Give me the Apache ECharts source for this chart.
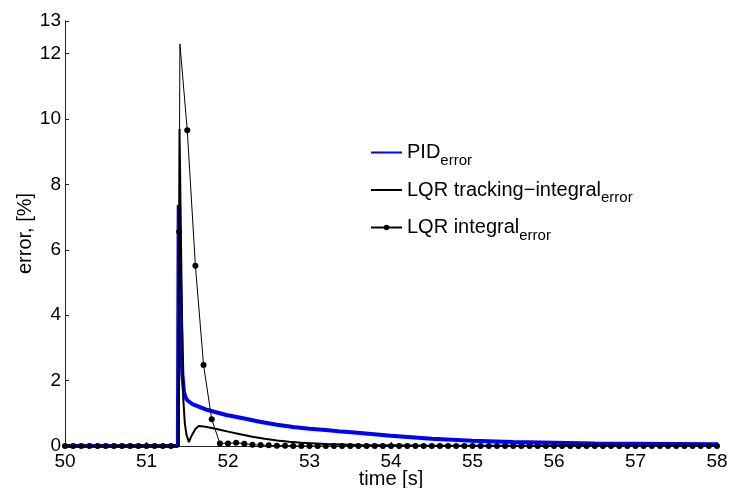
<!DOCTYPE html>
<html>
<head>
<meta charset="utf-8">
<title>error</title>
<script src="https://cdn.jsdelivr.net/npm/echarts@6/dist/echarts.min.js"></script>
<style>
  html, body { margin: 0; padding: 0; background: #fff; }
  #chart { width: 729px; height: 488px; }
</style>
</head>
<body>
<div id="chart"></div>
<script>
// PID error
const pidTime = [50, 51.385, 51.395, 51.42, 51.44, 51.46, 51.48, 51.5, 51.57, 51.75, 51.98, 52.2, 52.39, 52.6, 52.8, 53.0, 53.2, 53.4, 53.62, 54.0, 54.5, 55.0, 55.5, 56.0, 56.5, 57.0, 57.5, 58.0]
const pidValue = [0, 0, 7.37, 4.0, 2.2, 1.65, 1.48, 1.4, 1.27, 1.1, 0.95, 0.84, 0.74, 0.65, 0.58, 0.53, 0.49, 0.44, 0.4, 0.31, 0.22, 0.16, 0.12, 0.1, 0.08, 0.07, 0.06, 0.05]

// LQR tracking-integral error
const trackTime = [50, 51.395, 51.405, 51.43, 51.45, 51.47, 51.49, 51.52, 51.55, 51.6, 51.64, 51.7, 51.8, 51.9, 52.0, 52.15, 52.3, 52.45, 52.6, 52.75, 52.9, 53.2, 53.6, 54.0, 54.5, 55.0, 56.0, 58.0]
const trackValue = [0, 0, 9.7, 5.0, 1.5, 0.7, 0.35, 0.12, 0.3, 0.52, 0.61, 0.6, 0.55, 0.5, 0.44, 0.36, 0.28, 0.22, 0.17, 0.13, 0.1, 0.06, 0.03, 0.02, 0.01, 0.01, 0.005, 0]

// LQR integral error (line)
const intTime = [50, 51.39, 51.4, 51.41, 51.5, 51.6, 51.7, 51.8, 51.9, 52.0, 52.1, 52.2, 52.3, 52.4, 52.5, 52.7, 53.0, 58.0]
const intValue = [0, 0, 6.55, 12.3, 9.66, 5.51, 2.48, 0.82, 0.08, 0.08, 0.1, 0.07, 0.04, 0.03, 0.02, 0.01, 0, 0]

// LQR integral error (markers, every 0.1 s from 50 s)
const markerStart = 50
const markerStep = 0.1
const markerValue = [
  0, 0, 0, 0, 0, 0, 0, 0, 0, 0, 0, 0, 0, 0,
  6.55, 9.66, 5.51, 2.48, 0.82, 0.08, 0.08, 0.1, 0.07, 0.04, 0.03, 0.02, 0.01, 0.01,
  0, 0, 0, 0, 0, 0, 0, 0, 0, 0, 0, 0, 0, 0, 0, 0, 0, 0, 0, 0, 0, 0, 0, 0, 0,
  0, 0, 0, 0, 0, 0, 0, 0, 0, 0, 0, 0, 0, 0, 0, 0, 0, 0, 0, 0, 0, 0, 0, 0, 0, 0, 0, 0
]

const xTicks = [50, 51, 52, 53, 54, 55, 56, 57, 58]
const yTicks = [0, 2, 4, 6, 8, 10, 12, 13]

const seriesNames = ['PID', 'LQR tracking\u2212integral', 'LQR integral']

function pairs(xs, ys) {
  return xs.map((x, i) => [x, ys[i]])
}

const markerData = markerValue.map((v, i) => [+(markerStart + i * markerStep).toFixed(1), v])

const font = 'Liberation Sans, Arial, Helvetica, sans-serif'
const axisColor = '#222'

const chart = echarts.init(document.getElementById('chart'))
chart.setOption({
  animation: false,
  backgroundColor: '#fff',
  textStyle: { fontFamily: font },
  grid: { left: 65, right: 12, top: 21, bottom: 42, outerBoundsMode: 'none' },
  legend: {
    // 只有最后一条带圆点
    data: [
      { name: seriesNames[0], itemStyle: { opacity: 0 } },
      { name: seriesNames[1], itemStyle: { opacity: 0 } },
      { name: seriesNames[2] },
    ],
    orient: 'vertical',
    left: 370,
    top: 137,
    padding: 0,
    itemWidth: 31,
    itemHeight: 7,
    itemGap: 6.5,
    formatter: (name) => '{m|' + name + '}{s|error}',
    textStyle: {
      color: '#000',
      fontFamily: font,
      rich: {
        m: { fontSize: 20, fontFamily: font, color: '#000' },
        s: { fontSize: 15, fontFamily: font, color: '#000', padding: [16, 0, 0, 0], lineHeight: 15 },
      },
    },
  },
  xAxis: {
    type: 'value',
    min: xTicks[0],
    max: xTicks[xTicks.length - 1],
    interval: 1,
    name: 'time [s]',
    nameLocation: 'middle',
    nameGap: 23,
    nameMoveOverlap: false,
    nameTextStyle: { fontSize: 20, color: '#000', fontFamily: font },
    axisLine: { lineStyle: { color: axisColor, width: 1 } },
    axisTick: { inside: true, length: 4, lineStyle: { color: axisColor } },
    axisLabel: { fontSize: 19, color: '#000', margin: 6, fontFamily: font },
    splitLine: { show: false },
  },
  yAxis: {
    type: 'value',
    min: 0,
    max: 13,
    name: 'error, [%]',
    nameLocation: 'middle',
    nameGap: 30,
    nameMoveOverlap: false,
    nameTextStyle: { fontSize: 20, color: '#000', fontFamily: font },
    axisLine: { show: true, lineStyle: { color: axisColor, width: 1 } },
    axisTick: { show: true, inside: true, length: 4, customValues: yTicks, lineStyle: { color: axisColor } },
    axisLabel: { fontSize: 19, color: '#000', margin: 4, customValues: yTicks, fontFamily: font },
    splitLine: { show: false },
  },
  series: [
    {
      name: seriesNames[0],
      type: 'line',
      symbol: 'none',
      data: pairs(pidTime, pidValue),
      lineStyle: { color: '#0000ff', width: 4 },
      itemStyle: { color: '#0000ff' },
      z: 2,
    },
    {
      name: seriesNames[1],
      type: 'line',
      symbol: 'none',
      data: pairs(trackTime, trackValue),
      lineStyle: { color: '#000', width: 2 },
      itemStyle: { color: '#000' },
      z: 3,
    },
    {
      name: seriesNames[2],
      type: 'line',
      symbol: 'circle',
      showSymbol: false,
      data: pairs(intTime, intValue),
      lineStyle: { color: '#000', width: 1 },
      itemStyle: { color: '#000' },
      z: 4,
    },
    {
      name: 'markers',
      type: 'scatter',
      symbol: 'circle',
      symbolSize: 6,
      data: markerData,
      itemStyle: { color: '#000', opacity: 1 },
      z: 5,
    },
  ],
})
</script>
</body>
</html>
